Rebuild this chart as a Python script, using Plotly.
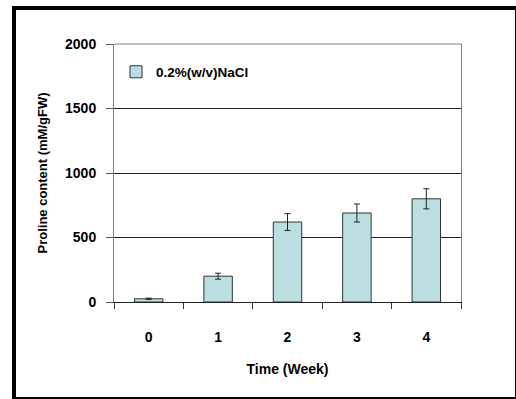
import plotly.graph_objects as go

weeks = ["0", "1", "2", "3", "4"]
proline = [25, 200, 620, 690, 800]
errors = [5, 23, 65, 70, 78]
series_name = "0.2%(w/v)NaCl"
y_ticks = [0, 500, 1000, 1500, 2000]

FONT = "Liberation Sans"

fig = go.Figure()
fig.add_trace(go.Bar(
    x=weeks, y=proline, name=series_name,
    marker=dict(color="#b9dfe0", line=dict(color="#333333", width=1)),
    error_y=dict(type="data", array=errors, visible=True,
                 color="#222222", thickness=1, width=3),
    showlegend=True,
))

W, H = 516, 399
ml, mr, mt, mb = 114, 55, 44, 97
pw, ph = W - ml - mr, H - mt - mb

def px_x(x):
    return (x - ml) / pw

def px_y(y):
    return (H - mb - y) / ph

fig.update_layout(
    width=W, height=H,
    margin=dict(l=ml, r=mr, t=mt, b=mb, pad=0),
    paper_bgcolor="white", plot_bgcolor="white",
    font=dict(family=FONT, size=12, color="black"),
    bargap=0.59,
    showlegend=True,
    legend=dict(
        x=px_x(116), y=px_y(72), xanchor="left", yanchor="middle",
        bgcolor="rgba(0,0,0,0)", borderwidth=0,
        font=dict(family=FONT, size=13.5, color="black", weight="bold"),
        itemwidth=30,
    ),
    xaxis=dict(
        type="category",
        showline=True, linecolor="#222222", linewidth=1,
        mirror=False,
        ticks="outside", tickson="boundaries", ticklen=6, tickcolor="#333333",
        ticklabelstandoff=22,
        tickfont=dict(family=FONT, size=14, color="black", weight="bold"),
        showgrid=False,
        title=dict(text="Time (Week)", standoff=20,
                   font=dict(family=FONT, size=14, color="black", weight="bold")),
    ),
    yaxis=dict(
        range=[0, 2000],
        tickvals=y_ticks,
        showline=True, linecolor="#808080", linewidth=1, mirror=True,
        ticks="outside", ticklen=7, tickcolor="#555555",
        ticklabelstandoff=7,
        tickfont=dict(family=FONT, size=14, color="black", weight="bold"),
        showgrid=True, gridcolor="#222222", gridwidth=1,
        zeroline=False,
        title=dict(text="Proline content (mM/gFW)", standoff=14,
                   font=dict(family=FONT, size=13, color="black", weight="bold")),
    ),
)

# top border of the plotting area (gray)
fig.add_shape(type="line", xref="paper", yref="paper",
              x0=0, x1=1, y0=1, y1=1,
              line=dict(color="#808080", width=1), layer="above")

# outer black frame
fig.add_shape(type="rect", xref="paper", yref="paper",
              x0=px_x(14), x1=px_x(517), y0=px_y(399), y1=px_y(8),
              line=dict(color="black", width=4), fillcolor="rgba(0,0,0,0)",
              layer="above")

fig.write_html(
    "out.html",
    config={"displayModeBar": False},
    post_script="document.body.style.margin='0';document.body.style.overflow='hidden';",
)
